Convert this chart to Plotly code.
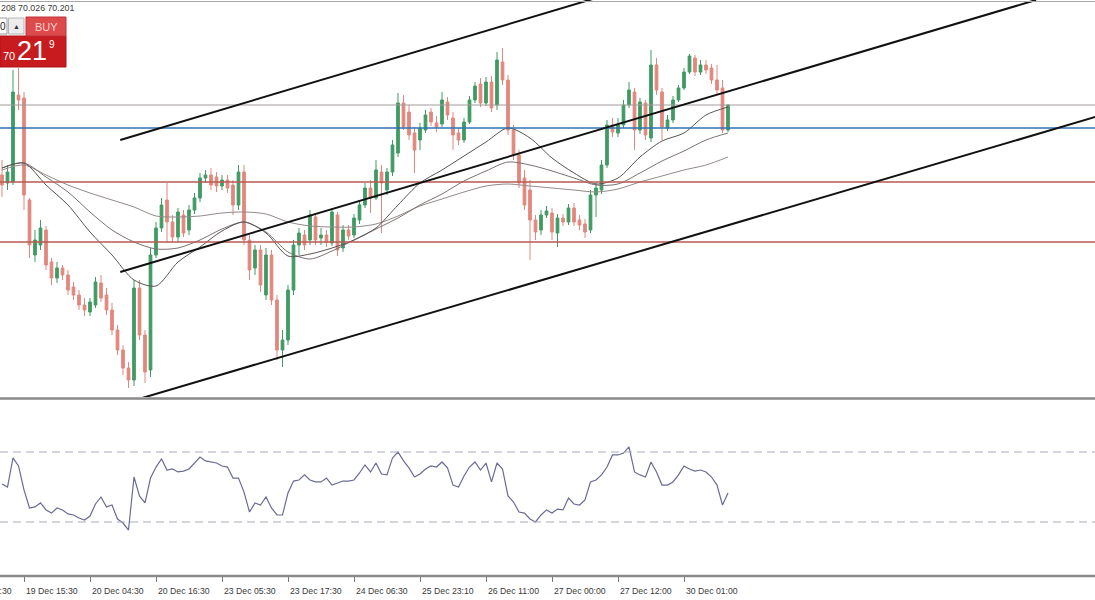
import plotly.graph_objects as go

W, H = 1095, 600

# ---------------- data ----------------
opens = [69.50, 69.42, 69.43, 70.30, 70.27, 69.25, 68.70, 68.80, 68.95, 68.63,
         68.47, 68.57, 68.50, 68.38, 68.30, 68.20, 68.13, 68.20, 68.42, 68.30,
         68.15, 67.95, 67.75, 67.57, 67.45, 68.37, 67.90, 67.55, 68.70, 68.97,
         69.25, 69.03, 68.88, 69.10, 68.95, 69.15, 69.27, 69.47, 69.50, 69.48,
         69.39, 69.45, 69.40, 69.20, 69.53, 68.85, 68.57, 68.75, 68.30, 68.70,
         68.25, 67.75, 67.85, 68.35, 68.80, 68.90, 68.85, 69.08, 68.87, 68.90,
         68.82, 69.10, 68.77, 68.95, 68.90, 69.05, 69.20, 69.37, 69.27, 69.53,
         69.35, 69.53, 69.72, 70.22, 70.13, 69.92, 69.85, 69.95, 70.13, 70.02,
         70.01, 70.23, 70.07, 69.92, 69.85, 70.03, 70.25, 70.41, 70.22, 70.43,
         70.20, 70.63, 70.45, 69.95, 69.70, 69.47, 69.35, 69.05, 68.95, 69.10,
         69.12, 68.92, 69.07, 69.03, 69.17, 69.05, 69.01, 68.95, 69.30, 69.35,
         69.60, 70.00, 69.92, 70.00, 70.20, 70.33, 69.95, 70.22, 69.87, 70.60,
         70.33, 69.97, 70.05, 70.25, 70.37, 70.53, 70.67, 70.53, 70.60, 70.57,
         70.45, 70.37, 69.95]
highs = [69.65, 69.60, 70.55, 70.57, 70.33, 69.27, 68.95, 69.05, 68.99, 68.67,
         68.63, 68.60, 68.55, 68.43, 68.35, 68.27, 68.27, 68.48, 68.50, 68.37,
         68.22, 68.00, 67.80, 67.63, 68.45, 68.45, 67.95, 68.77, 69.03, 69.27,
         69.42, 69.10, 69.17, 69.15, 69.20, 69.32, 69.52, 69.55, 69.57, 69.53,
         69.50, 69.50, 69.45, 69.60, 69.60, 68.90, 68.80, 68.80, 68.77, 68.75,
         68.30, 67.95, 68.40, 68.85, 68.97, 68.95, 69.15, 69.12, 68.97, 68.95,
         69.17, 69.13, 69.00, 69.00, 69.11, 69.25, 69.42, 69.45, 69.65, 69.60,
         69.57, 69.85, 70.32, 70.30, 70.20, 69.98, 70.02, 70.15, 70.17, 70.09,
         70.33, 70.28, 70.13, 69.97, 70.07, 70.29, 70.43, 70.47, 70.48, 70.49,
         70.73, 70.77, 70.50, 70.00, 69.75, 69.55, 69.45, 69.10, 69.15, 69.19,
         69.17, 69.11, 69.11, 69.21, 69.22, 69.10, 69.06, 69.35, 69.42, 69.65,
         70.05, 70.07, 70.07, 70.25, 70.43, 70.37, 70.27, 70.25, 70.75, 70.67,
         70.37, 70.10, 70.29, 70.40, 70.57, 70.71, 70.70, 70.65, 70.65, 70.61,
         70.60, 70.45, 70.21]
lows = [69.28, 69.35, 69.40, 70.15, 69.15, 68.67, 68.63, 68.75, 68.55, 68.40,
        68.42, 68.45, 68.30, 68.25, 68.15, 68.09, 68.09, 68.17, 68.23, 68.10,
        67.90, 67.70, 67.50, 67.37, 67.39, 67.85, 67.42, 67.48, 68.67, 68.93,
        68.82, 68.83, 68.83, 68.88, 68.90, 69.11, 69.23, 69.42, 69.35, 69.33,
        69.35, 69.32, 69.10, 69.15, 68.80, 68.45, 68.50, 68.33, 68.25, 68.20,
        67.65, 67.58, 67.80, 68.30, 68.70, 68.75, 68.80, 68.80, 68.80, 68.78,
        68.79, 68.69, 68.73, 68.85, 68.87, 69.01, 69.17, 69.12, 69.25, 68.92,
        69.30, 69.49, 69.68, 69.95, 69.85, 69.52, 69.75, 69.92, 69.99, 69.93,
        69.98, 70.05, 69.75, 69.80, 69.82, 70.01, 70.22, 70.18, 70.19, 70.13,
        70.15, 70.40, 69.90, 69.65, 69.37, 69.15, 68.65, 68.85, 68.90, 69.07,
        68.85, 68.78, 68.99, 69.00, 68.99, 68.95, 68.87, 68.92, 69.08, 69.31,
        69.57, 69.88, 69.88, 69.97, 70.17, 69.75, 69.91, 69.85, 69.83, 70.30,
        69.85, 69.94, 70.02, 70.23, 70.35, 70.51, 70.49, 70.50, 70.51, 70.41,
        70.30, 69.92, 69.93]
closes = [69.40, 69.53, 70.33, 70.25, 69.30, 68.80, 68.85, 68.97, 68.60, 68.47,
          68.57, 68.50, 68.35, 68.30, 68.20, 68.15, 68.23, 68.43, 68.27, 68.15,
          67.95, 67.75, 67.57, 67.45, 68.37, 67.90, 67.53, 68.70, 68.97, 69.20,
          69.03, 68.88, 69.13, 68.92, 69.15, 69.27, 69.47, 69.50, 69.40, 69.39,
          69.45, 69.37, 69.20, 69.53, 68.85, 68.55, 68.75, 68.40, 68.70, 68.25,
          67.75, 67.85, 68.35, 68.80, 68.92, 68.80, 69.10, 68.85, 68.90, 68.83,
          69.13, 68.75, 68.95, 68.89, 69.07, 69.20, 69.37, 69.27, 69.55, 69.42,
          69.53, 69.80, 70.22, 69.98, 69.90, 69.75, 69.97, 70.10, 70.03, 69.98,
          70.25, 70.10, 69.90, 69.85, 70.03, 70.25, 70.39, 70.22, 70.43, 70.17,
          70.65, 70.45, 69.95, 69.70, 69.42, 69.20, 69.05, 68.93, 69.10, 69.14,
          68.93, 69.07, 69.03, 69.17, 69.03, 69.00, 68.93, 69.30, 69.37, 69.60,
          70.00, 69.93, 70.00, 70.20, 70.35, 69.95, 70.23, 69.90, 70.60, 70.35,
          69.98, 70.05, 70.25, 70.37, 70.53, 70.69, 70.53, 70.60, 70.55, 70.45,
          70.35, 69.95, 70.20]

# moving averages, sampled every 4th bar
ma_bar = list(range(0, 133, 4))
ma_fast = [69.57, 69.62, 69.40, 69.20, 68.93, 68.70, 68.45, 68.39, 68.63, 68.78,
           68.94, 69.03, 68.92, 68.69, 68.71, 68.77, 68.85, 68.97, 69.20, 69.42,
           69.55, 69.69, 69.83, 69.97, 69.87, 69.67, 69.52, 69.41, 69.47, 69.68,
           69.84, 69.92, 70.10, 70.18]
ma_mid = [69.57, 69.62, 69.48, 69.33, 69.13, 68.95, 68.83, 68.76, 68.77, 68.85,
          68.96, 69.03, 68.93, 68.73, 68.66, 68.74, 68.85, 68.96, 69.07, 69.20,
          69.31, 69.44, 69.54, 69.63, 69.60, 69.54, 69.47, 69.40, 69.41, 69.52,
          69.64, 69.74, 69.85, 69.92]
ma_slow = [69.55, 69.60, 69.50, 69.40, 69.32, 69.25, 69.18, 69.09, 69.08, 69.09,
           69.12, 69.13, 69.11, 69.03, 68.99, 68.98, 68.98, 69.01, 69.09, 69.19,
           69.26, 69.33, 69.39, 69.41, 69.39, 69.37, 69.35, 69.33, 69.36, 69.43,
           69.49, 69.55, 69.60, 69.68]

rsi = [51.7, 50.0, 66.6, 62.0, 48.3, 38.0, 38.6, 40.9, 36.9, 35.1,
       38.0, 36.9, 34.6, 34.0, 32.3, 31.1, 33.4, 40.3, 44.3, 38.6,
       39.7, 31.7, 29.4, 25.4, 55.7, 44.9, 40.9, 55.1, 61.4, 66.0,
       59.7, 60.3, 58.6, 59.1, 60.3, 63.7, 67.1, 64.9, 64.3, 63.7,
       62.0, 61.4, 55.1, 55.1, 47.1, 35.7, 40.9, 39.7, 44.3, 38.0,
       34.0, 34.0, 46.6, 53.4, 54.0, 56.9, 54.0, 52.9, 52.9, 55.1,
       51.1, 52.3, 53.4, 53.4, 54.0, 58.0, 62.6, 58.6, 63.7, 57.4,
       56.9, 66.6, 70.0, 64.9, 60.9, 55.7, 57.4, 60.3, 62.0, 61.4,
       64.3, 60.9, 51.1, 50.0, 56.3, 61.4, 64.3, 59.7, 63.7, 52.9,
       63.7, 60.3, 44.9, 41.4, 35.7, 35.1, 31.7, 30.0, 34.0, 36.9,
       35.1, 37.4, 36.9, 43.7, 40.3, 39.7, 42.6, 52.9, 54.0, 56.9,
       61.4, 68.3, 68.3, 69.4, 72.9, 58.6, 56.9, 55.7, 64.3, 58.6,
       51.1, 51.1, 52.9, 56.9, 62.0, 60.3, 59.1, 59.7, 58.6, 55.7,
       51.1, 39.7, 46.6]

rsi_levels = [70, 30]

# horizontal levels
bid_level = 70.20
blue_level = 69.97
red_levels = [69.43, 68.83]

# channel lines: (bar0, price0, bar1, price1)
channel_top = (21.5, 69.85, 108.0, 71.27)
channel_mid = (21.5, 68.53, 188.0, 71.25)
channel_bot = (23.0, 67.23, 200.0, 70.10)

tick_bars = [-8, 4, 16, 28, 40, 52, 64, 76, 88, 100, 112, 124]
tick_labels = ["19 Dec 03:30", "19 Dec 15:30", "20 Dec 04:30", "20 Dec 16:30",
               "23 Dec 05:30", "23 Dec 17:30", "24 Dec 06:30", "25 Dec 23:10",
               "26 Dec 11:00", "27 Dec 00:00", "27 Dec 12:00", "30 Dec 01:00"]

header_text = "208 70.026 70.201"

# ---------------- figure ----------------
X0, X1 = -0.3636, 198.727
FONT = "Liberation Sans, Arial, sans-serif"
GREEN = "#3f9b63"
RED = "#e2877e"

def bx(b):
    return (b - X0) / (X1 - X0)

def px(x):
    return x / W

def py(y):
    return 1 - y / H

bars = list(range(len(closes)))

fig = go.Figure()
fig.add_trace(go.Candlestick(
    x=bars, open=opens, high=highs, low=lows, close=closes,
    xaxis="x", yaxis="y", whiskerwidth=0,
    increasing=dict(line=dict(color=GREEN, width=1), fillcolor=GREEN),
    decreasing=dict(line=dict(color=RED, width=1), fillcolor=RED),
    showlegend=False, hoverinfo="skip"))

for vals, col in [(ma_slow, "#958a8a"), (ma_mid, "#7d7272"), (ma_fast, "#5a5454")]:
    fig.add_trace(go.Scatter(x=ma_bar, y=vals, mode="lines", xaxis="x", yaxis="y",
                             line=dict(color=col, width=1, shape="spline", smoothing=0.8),
                             showlegend=False, hoverinfo="skip"))

fig.add_trace(go.Scatter(x=bars, y=rsi, mode="lines", xaxis="x2", yaxis="y2",
                         line=dict(color="#6a6a98", width=1.2),
                         showlegend=False, hoverinfo="skip"))

shapes = []
shapes.append(dict(type="line", xref="paper", yref="y", x0=0, x1=1, y0=bid_level, y1=bid_level,
                   line=dict(color="#a49a9a", width=1)))
shapes.append(dict(type="line", xref="paper", yref="y", x0=0, x1=1, y0=blue_level, y1=blue_level,
                   line=dict(color="#2f73b5", width=1.5)))
for lv in red_levels:
    shapes.append(dict(type="line", xref="paper", yref="y", x0=0, x1=1, y0=lv, y1=lv,
                       line=dict(color="#b85a50", width=1.5)))
for (b0, p0, b1, p1) in [channel_top, channel_mid, channel_bot]:
    shapes.append(dict(type="line", xref="x", yref="y", x0=b0, y0=p0, x1=b1, y1=p1,
                       line=dict(color="#111111", width=2)))
for lv in rsi_levels:
    shapes.append(dict(type="line", xref="paper", yref="y2", x0=0, x1=1, y0=lv, y1=lv,
                       line=dict(color="#a9a9bb", width=1, dash="8px,5px")))

# frame lines
shapes.append(dict(type="line", xref="paper", yref="paper", x0=0, x1=1, y0=py(1.5), y1=py(1.5),
                   line=dict(color="#a8a8a8", width=1)))
shapes.append(dict(type="line", xref="paper", yref="paper", x0=0, x1=1, y0=py(398.5), y1=py(398.5),
                   line=dict(color="#8a8a8a", width=2.5)))
shapes.append(dict(type="line", xref="paper", yref="paper", x0=0, x1=1, y0=py(576), y1=py(576),
                   line=dict(color="#8a8a8a", width=2.5)))

# trade widget
def rect(x0, y0, x1, y1, fill, line=None):
    return dict(type="rect", xref="paper", yref="paper", x0=px(x0), x1=px(x1),
                y0=py(y1), y1=py(y0), fillcolor=fill,
                line=dict(color=line or fill, width=1), layer="above")

shapes.append(rect(0, 36, 66, 67, "#c81b20", "#b01318"))
shapes.append(rect(26, 17, 66, 36, "#dc4a4c", "#c23236"))
shapes.append(rect(-2, 18, 7, 34, "#ffffff", "#9a9a9a"))
shapes.append(rect(8.5, 18, 24, 34, "#ececec", "#b5b5b5"))

annotations = []
annotations.append(dict(text=header_text, xref="paper", yref="paper", x=px(-1), y=py(8),
                        xanchor="left", yanchor="middle", showarrow=False,
                        font=dict(family=FONT, size=8.8, color="#3a3a3a")))
annotations.append(dict(text="0", xref="paper", yref="paper", x=px(-2), y=py(26),
                        xanchor="left", yanchor="middle", showarrow=False,
                        font=dict(family=FONT, size=10, color="#222")))
annotations.append(dict(text="▲", xref="paper", yref="paper", x=px(16.2), y=py(26),
                        xanchor="center", yanchor="middle", showarrow=False,
                        font=dict(family=FONT, size=7, color="#333")))
annotations.append(dict(text="BUY", xref="paper", yref="paper", x=px(46), y=py(26.5),
                        xanchor="center", yanchor="middle", showarrow=False,
                        font=dict(family=FONT, size=11, color="#fbd0d0")))
annotations.append(dict(text="70", xref="paper", yref="paper", x=px(9), y=py(56.5),
                        xanchor="center", yanchor="middle", showarrow=False,
                        font=dict(family=FONT, size=11, color="#ffffff")))
annotations.append(dict(text="21", xref="paper", yref="paper", x=px(31.5), y=py(51),
                        xanchor="center", yanchor="middle", showarrow=False,
                        font=dict(family=FONT, size=27, color="#ffffff")))
annotations.append(dict(text="9", xref="paper", yref="paper", x=px(52), y=py(44),
                        xanchor="center", yanchor="middle", showarrow=False,
                        font=dict(family=FONT, size=10, color="#ffffff")))

for b, t in zip(tick_bars, tick_labels):
    annotations.append(dict(text=t, xref="paper", yref="paper", x=bx(b), y=py(591),
                            xanchor="left", yanchor="middle", showarrow=False,
                            font=dict(family=FONT, size=8.7, color="#3a3a3a")))

fig.update_layout(
    width=W, height=H, margin=dict(l=0, r=0, t=0, b=0),
    paper_bgcolor="white", plot_bgcolor="white",
    showlegend=False, shapes=shapes, annotations=annotations,
    xaxis=dict(domain=[0, 1], range=[X0, X1], anchor="y", visible=False,
               rangeslider=dict(visible=False), fixedrange=True),
    xaxis2=dict(domain=[0, 1], range=[X0, X1], anchor="y2", showgrid=False, zeroline=False,
                showline=False, showticklabels=False, ticks="outside", ticklen=6,
                tickcolor="#777777", tickwidth=1,
                tickvals=[b for b in tick_bars if b >= 0], fixedrange=True),
    yaxis=dict(domain=[1 - 397 / 600, 1], range=[67.28, 71.25], visible=False, fixedrange=True),
    yaxis2=dict(domain=[1 - 575 / 600, 1 - 400 / 600], range=[-0.29, 99.71], visible=False,
                fixedrange=True),
)

fig.write_html(
    "out.html",
    config={"displayModeBar": False, "staticPlot": True},
    post_script="document.body.style.margin='0';document.body.style.padding='0';"
                "document.body.style.overflow='hidden';",
)
